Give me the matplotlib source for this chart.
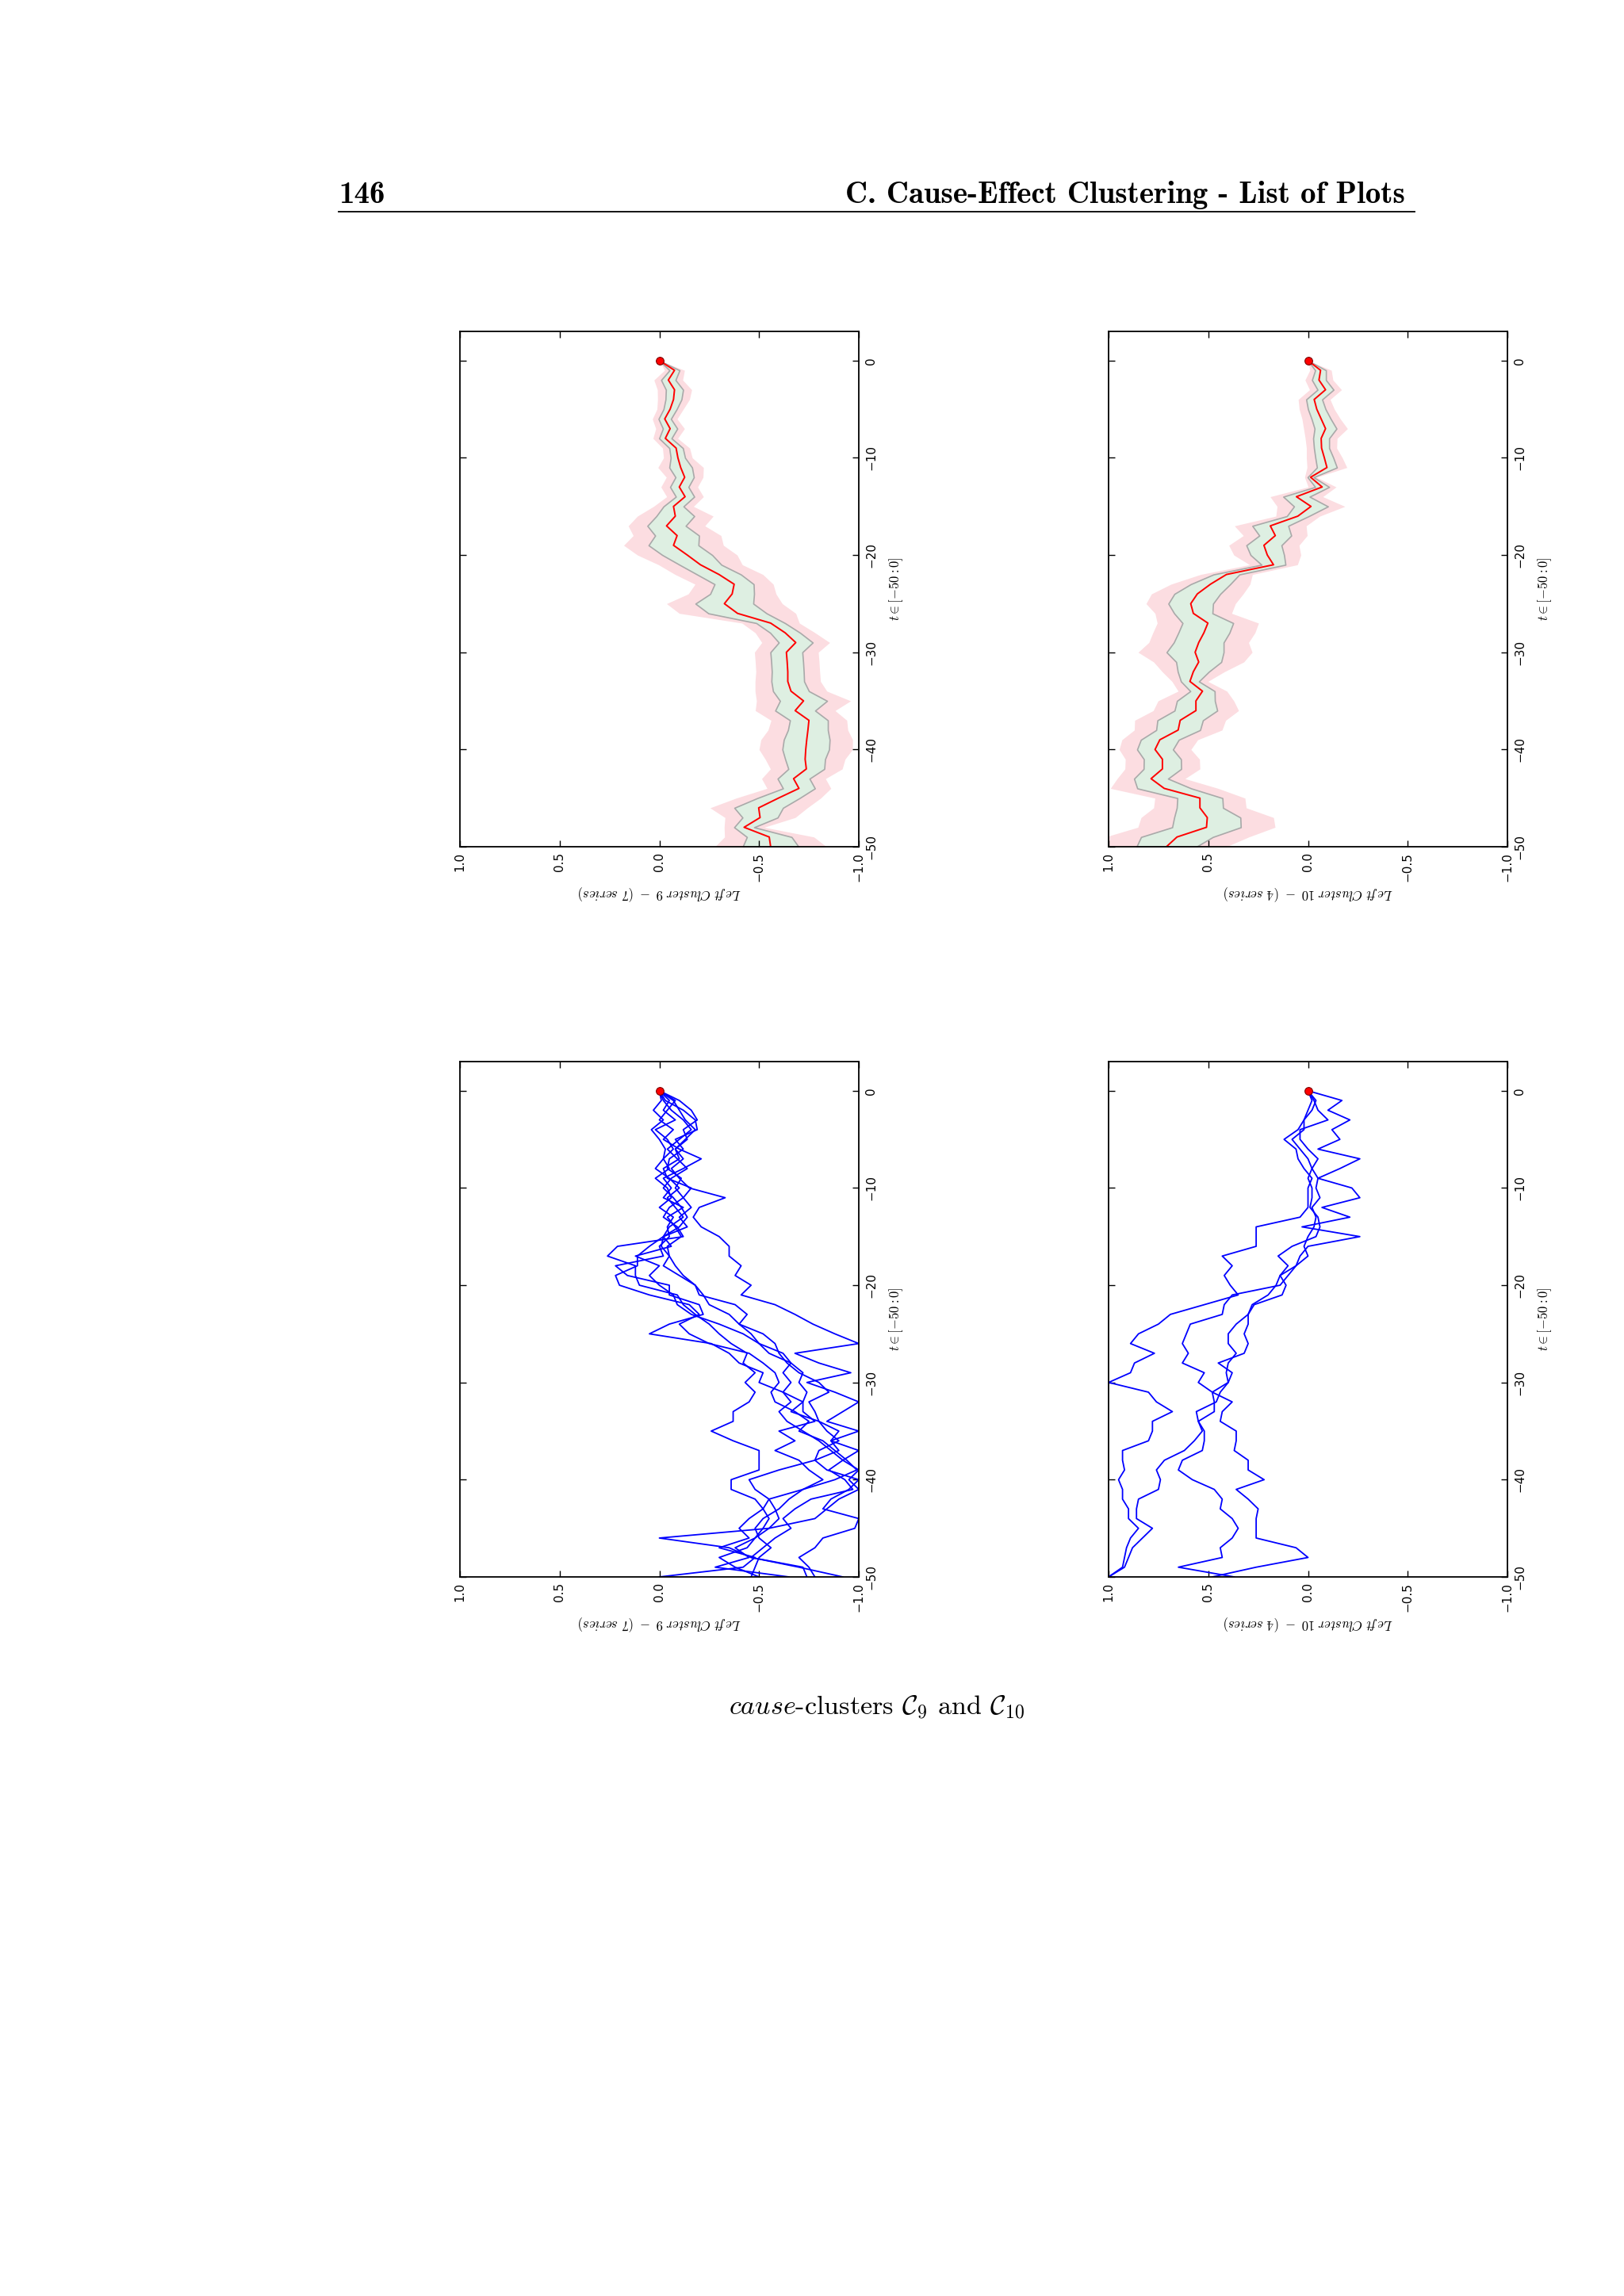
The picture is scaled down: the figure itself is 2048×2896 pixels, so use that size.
import numpy as np
import matplotlib
matplotlib.use('Agg')
import matplotlib.pyplot as plt
from matplotlib.lines import Line2D

plt.rcParams['mathtext.fontset'] = 'cm'
plt.rcParams['font.family'] = 'DejaVu Sans'

W, H = 2048, 2896

# time axis t = 0, -1, ..., -50
t = np.arange(0, -51, -1)
t_ticks = [0, -10, -20, -30, -40, -50]
t_labels = ['0', '\u221210', '\u221220', '\u221230', '\u221240', '\u221250']
v_ticks = [1.0, 0.5, 0.0, -0.5, -1.0]
v_labels = ['1.0', '0.5', '0.0', '\u22120.5', '\u22121.0']

# cluster 9: mean and half-width of the inner band
mean9 = [0.000, -0.076, -0.045, -0.076, -0.071, -0.054, -0.027, -0.054, -0.030, -0.084,
         -0.093, -0.107, -0.127, -0.100, -0.129, -0.071, -0.080, -0.036, -0.089, -0.071,
         -0.140, -0.206, -0.299, -0.375, -0.365, -0.326, -0.392, -0.558, -0.631, -0.684,
         -0.637, -0.641, -0.644, -0.644, -0.660, -0.723, -0.681, -0.750, -0.745, -0.739,
         -0.734, -0.731, -0.737, -0.673, -0.700, -0.597, -0.498, -0.505, -0.425, -0.551,
         -0.558]
se9 = [0.000, 0.025, 0.036, 0.043, 0.040, 0.033, 0.031, 0.036, 0.031, 0.034,
       0.036, 0.057, 0.046, 0.046, 0.046, 0.050, 0.095, 0.096, 0.110, 0.125,
       0.125, 0.105, 0.110, 0.098, 0.110, 0.145, 0.146, 0.072, 0.075, 0.085,
       0.080, 0.080, 0.080, 0.082, 0.090, 0.118, 0.100, 0.095, 0.100, 0.115,
       0.117, 0.100, 0.090, 0.080, 0.080, 0.106, 0.122, 0.088, 0.050, 0.112,
       0.140]

# cluster 10: mean and half-width of the inner band (top-right panel)
mean10 = [0.000, -0.063, -0.055, -0.088, -0.031, -0.044, -0.066, -0.088, -0.066, -0.068,
          -0.082, -0.095, -0.013, -0.071, 0.058, -0.015, 0.051, 0.189, 0.164, 0.221,
          0.204, 0.173, 0.409, 0.489, 0.555, 0.588, 0.575, 0.502, 0.522, 0.548,
          0.566, 0.548, 0.575, 0.592, 0.529, 0.562, 0.562, 0.641, 0.651, 0.743,
          0.767, 0.730, 0.730, 0.787, 0.721, 0.542, 0.542, 0.505, 0.509, 0.657,
          0.710]
se10 = [0.000, 0.027, 0.035, 0.040, 0.040, 0.044, 0.048, 0.055, 0.040, 0.038,
        0.045, 0.050, 0.015, 0.035, 0.066, 0.085, 0.055, 0.090, 0.080, 0.088,
        0.084, 0.060, 0.065, 0.099, 0.115, 0.112, 0.096, 0.127, 0.128, 0.125,
        0.143, 0.113, 0.078, 0.045, 0.061, 0.095, 0.107, 0.114, 0.110, 0.095,
        0.090, 0.093, 0.094, 0.085, 0.135, 0.113, 0.116, 0.166, 0.172, 0.180,
        0.150]

# individual series of cluster 9 (bottom-left panel)
s9_1 = [0.00, -0.03, -0.12, -0.18, -0.19, -0.08, -0.12, -0.05, -0.04, -0.11,
        -0.08, -0.12, -0.05, -0.02, -0.09, -0.12, 0.21, 0.26, 0.12, 0.12,
        0.10, -0.09, -0.12, -0.18, -0.25, -0.30, -0.36, -0.44, -0.42, -0.48,
        -0.43, -0.48, -0.45, -0.37, -0.37, -0.26, -0.37, -0.50, -0.50, -0.50,
        -0.36, -0.36, -0.48, -0.52, -0.55, -0.52, -0.48, -0.44, -0.30, -0.38,
        -0.50]
s9_2 = [0.00, -0.07, -0.10, -0.13, -0.18, -0.13, -0.08, -0.12, -0.06, -0.10,
        -0.15, -0.33, -0.20, -0.17, -0.21, -0.30, -0.35, -0.35, -0.41, -0.38,
        -0.46, -0.41, -0.58, -0.68, -0.77, -0.88, -1.00, -0.68, -0.80, -0.96,
        -0.74, -0.88, -1.00, -0.92, -0.84, -1.00, -0.86, -0.90, -0.78, -0.84,
        -1.00, -0.95, -0.86, -0.82, -1.00, -0.98, -0.82, -0.78, -0.70, -0.75,
        -0.78]
s9_3 = [0.00, -0.05, -0.02, -0.08, 0.02, -0.04, -0.07, -0.02, 0.02, -0.05,
        -0.10, -0.04, -0.08, -0.12, -0.05, -0.02, 0.05, 0.11, 0.11, 0.22,
        0.20, 0.05, -0.15, -0.20, -0.10, -0.15, -0.25, -0.45, -0.52, -0.58,
        -0.60, -0.56, -0.58, -0.68, -0.75, -0.70, -0.82, -0.88, -0.94, -0.99,
        -0.88, -0.72, -0.65, -0.60, -0.52, -0.48, -0.50, -0.56, -0.50, -0.48,
        -0.46]
s9_4 = [0.00, -0.01, 0.03, -0.02, 0.04, 0.00, -0.03, -0.02, -0.05, 0.02,
        -0.04, -0.06, 0.00, -0.07, -0.04, -0.05, 0.00, -0.02, 0.22, 0.16,
        -0.05, -0.05, -0.20, -0.22, -0.05, 0.05, -0.26, -0.35, -0.40, -0.52,
        -0.50, -0.62, -0.72, -0.72, -0.78, -0.60, -0.68, -0.58, -0.70, -0.75,
        -0.82, -0.72, -0.55, -0.52, -0.45, -0.40, -0.45, -0.30, -0.48, -0.42,
        0.00]
s9_5 = [0.00, -0.10, -0.16, -0.19, -0.12, -0.14, -0.08, -0.10, -0.02, -0.04,
        -0.16, -0.12, -0.16, -0.10, -0.14, -0.02, -0.01, -0.05, -0.02, -0.10,
        -0.18, -0.22, -0.25, -0.35, -0.40, -0.52, -0.58, -0.60, -0.64, -0.70,
        -0.80, -0.85, -0.75, -0.78, -0.80, -0.84, -0.90, -0.80, -0.78, -0.60,
        -0.45, -0.48, -0.55, -0.58, -0.60, -0.55, -0.48, -0.38, -0.45, -0.28,
        -0.65]
s9_6 = [0.00, -0.02, -0.06, -0.12, -0.16, -0.10, -0.04, -0.09, -0.14, -0.06,
        -0.02, -0.07, -0.11, -0.14, -0.10, -0.02, -0.06, 0.12, 0.00, 0.05,
        0.00, -0.07, -0.09, -0.16, -0.30, -0.42, -0.50, -0.55, -0.66, -0.62,
        -0.66, -0.62, -0.66, -0.60, -0.64, -0.72, -0.80, -0.86, -0.92, -0.85,
        -0.93, -0.97, -0.76, -0.68, -0.62, -0.66, -0.58, -0.52, -0.46, -0.72,
        -0.74]
s9_7 = [0.00, -0.08, -0.04, 0.00, -0.07, -0.02, -0.10, -0.21, -0.12, -0.02,
        -0.06, -0.02, -0.12, -0.04, -0.08, -0.11, -0.04, -0.05, -0.08, -0.12,
        -0.18, -0.20, -0.38, -0.44, -0.40, -0.46, -0.50, -0.62, -0.66, -0.72,
        -0.70, -0.74, -0.72, -0.66, -0.80, -0.90, -0.86, -1.00, -0.92, -1.00,
        -0.95, -1.00, -0.90, -0.84, -0.78, -0.55, 0.00, -0.35, -0.46, -0.70,
        -0.92]

# individual series of cluster 10 (bottom-right panel)
s10_1 = [0.00, -0.02, 0.00, 0.02, 0.05, 0.12, 0.06, 0.05, 0.02, -0.02,
         0.00, 0.00, 0.00, 0.04, 0.26, 0.26, 0.26, 0.43, 0.38, 0.42,
         0.39, 0.35, 0.52, 0.69, 0.75, 0.85, 0.89, 0.77, 0.87, 0.89,
         1.00, 0.80, 0.76, 0.68, 0.78, 0.78, 0.80, 0.93, 0.93, 0.92,
         0.95, 0.93, 0.93, 0.90, 0.90, 0.85, 0.89, 0.91, 0.92, 0.93,
         1.00]
s10_2 = [0.00, -0.17, -0.10, -0.21, -0.12, -0.16, -0.05, -0.26, -0.16, -0.05,
         -0.22, -0.26, -0.07, -0.21, 0.03, -0.26, 0.00, 0.04, 0.06, 0.14,
         0.11, 0.13, 0.27, 0.30, 0.30, 0.32, 0.30, 0.32, 0.45, 0.38,
         0.40, 0.48, 0.47, 0.47, 0.55, 0.53, 0.57, 0.62, 0.72, 0.76,
         0.74, 0.75, 0.85, 0.86, 0.86, 0.78, 0.83, 0.88, 0.90, 0.92,
         1.00]
s10_3 = [0.00, -0.03, -0.05, -0.10, 0.04, 0.04, 0.00, -0.05, -0.02, 0.00,
         -0.02, -0.02, -0.01, -0.05, -0.06, -0.04, 0.08, 0.15, 0.10, 0.14,
         0.16, 0.20, 0.28, 0.30, 0.36, 0.40, 0.40, 0.36, 0.40, 0.41,
         0.40, 0.44, 0.46, 0.56, 0.55, 0.52, 0.52, 0.53, 0.63, 0.65,
         0.58, 0.47, 0.43, 0.44, 0.38, 0.35, 0.38, 0.44, 0.43, 0.65,
         0.37]
s10_4 = [0.00, -0.04, -0.02, 0.02, 0.02, 0.08, 0.04, 0.00, -0.02, -0.05,
         -0.04, -0.06, -0.02, -0.04, -0.03, 0.00, 0.02, 0.00, 0.06, 0.10,
         0.14, 0.38, 0.42, 0.43, 0.59, 0.61, 0.63, 0.60, 0.63, 0.52,
         0.55, 0.48, 0.38, 0.43, 0.44, 0.36, 0.36, 0.37, 0.30, 0.30,
         0.22, 0.36, 0.30, 0.25, 0.26, 0.26, 0.26, 0.06, 0.00, 0.26,
         0.48]

series9 = [s9_1, s9_2, s9_3, s9_4, s9_5, s9_6, s9_7]
series10 = [s10_1, s10_2, s10_3, s10_4]

fig = plt.figure(figsize=(W / 100, H / 100), dpi=100)
fig.patch.set_facecolor('white')


def px_axes(x0, y0, x1, y1):
    return fig.add_axes([x0 / W, 1 - y1 / H, (x1 - x0) / W, (y1 - y0) / H])


def style(ax, label):
    ax.set_xlim(1.0, -1.0)
    ax.set_ylim(-50, 3)
    ax.set_xticks(v_ticks)
    ax.set_xticklabels(v_labels, rotation=90)
    ax.set_yticks(t_ticks)
    ax.set_yticklabels(t_labels, rotation=90, va='center')
    ax.tick_params(direction='in', length=6, width=1, top=True, bottom=True,
                   left=True, right=True, labelleft=False, labelright=True,
                   labelsize=11)
    ax.tick_params(axis='x', pad=5)
    ax.tick_params(axis='y', pad=6)
    ax.yaxis.set_label_position('right')
    ax.set_ylabel(r'$t \in [-50{:}0]$', rotation=90, fontsize=12, labelpad=9)
    ax.set_xlabel(label, rotation=180, fontsize=12, labelpad=2)
    for sp in ax.spines.values():
        sp.set_linewidth(1.3)


def band_panel(ax, mean, se, label):
    mean = np.array(mean)
    se = np.array(se)
    ax.fill_betweenx(t, mean - 2 * se, mean + 2 * se, color='#fcdde1', lw=0)
    ax.fill_betweenx(t, mean - se, mean + se, facecolor='#deefe2',
                     edgecolor='#a9a9a9', lw=1.2)
    ax.plot(mean, t, color='red', lw=1.4)
    ax.plot([mean[0]], [t[0]], 'o', color='red', mec='#7a0000', ms=7, mew=0.8)
    style(ax, label)


def series_panel(ax, series, label):
    for s in series:
        ax.plot(s, t, color='blue', lw=1.3)
    ax.plot([series[0][0]], [t[0]], 'o', color='red', mec='#7a0000', ms=7,
            mew=0.8, zorder=5)
    style(ax, label)


lab9 = r'$Left\ Cluster\ 9\ -\ (7\ series)$'
lab10 = r'$Left\ Cluster\ 10\ -\ (4\ series)$'

band_panel(px_axes(580, 418, 1083, 1068), mean9, se9, lab9)
band_panel(px_axes(1398, 418, 1901, 1068), mean10, se10, lab10)
series_panel(px_axes(580, 1339, 1083, 1989), series9, lab9)
series_panel(px_axes(1398, 1339, 1901, 1989), series10, lab10)

# page header and caption
fig.text(427 / W, 1 - 256 / H, '146', fontsize=28, family='cmb10',
         ha='left', va='baseline')
fig.text(1772 / W, 1 - 256 / H, 'C. Cause-Effect Clustering - List of Plots',
         fontsize=28, family='cmb10', ha='right', va='baseline')
fig.add_artist(Line2D([427 / W, 1784 / W], [1 - 267 / H, 1 - 267 / H],
                      color='black', lw=1.3))
fig.text(1106 / W, 1 - 2163 / H,
         r'$\mathit{cause}$-clusters $\mathcal{C}_9$ and $\mathcal{C}_{10}$',
         fontsize=24.5, family='cmr10', ha='center', va='baseline')

fig.savefig('out.png', dpi=100)
